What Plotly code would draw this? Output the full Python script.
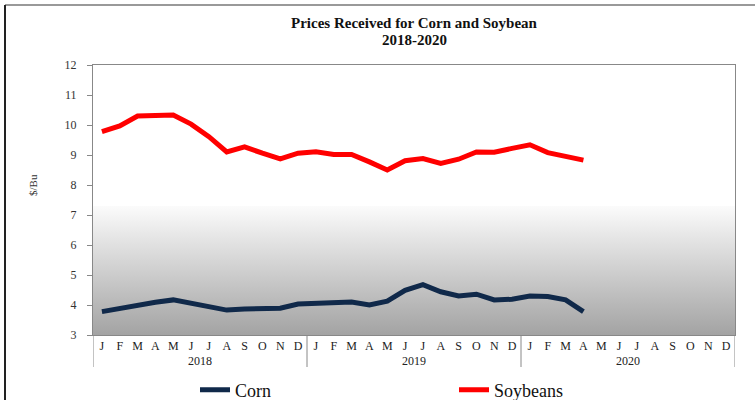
import plotly.graph_objects as go

# monthly prices received, $/bu, Jan 2018 - Apr 2020
months = ["J", "F", "M", "A", "M", "J", "J", "A", "S", "O", "N", "D"]
years = ["2018", "2019", "2020"]

corn = [3.78, 3.89, 4.02, 4.09, 4.17, 4.06, 3.94, 3.83, 3.87, 3.89, 3.89, 4.03,
        4.06, 4.10, 4.10, 4.00, 4.13, 4.49, 4.68, 4.44, 4.30, 4.36, 4.17, 4.19,
        4.30, 4.28, 4.17, 3.78]
soybeans = [9.78, 9.97, 10.30, 10.32, 10.33, 10.03, 9.61, 9.10, 9.27, 9.06, 8.87, 9.06,
            9.11, 9.02, 9.02, 8.77, 8.50, 8.81, 8.88, 8.72, 8.86, 9.10, 9.09, 9.22,
            9.34, 9.08, 8.94, 8.83]

n_months = len(months) * len(years)
x_all = list(range(n_months))
tick_text = months * len(years)

SERIF = "Liberation Serif, Times New Roman, serif"

# plot area in pixels (755x400 page)
L, R, T, B = 93, 735, 65, 335
W, H = 755, 400


def px_x(px):
    return (px - L) / (R - L)


def px_y(py):
    return (B - py) / (B - T)


fig = go.Figure()

# gray gradient band at the bottom of the plot area
fig.add_trace(go.Scatter(
    x=[-0.5, n_months - 0.5, n_months - 0.5, -0.5, -0.5],
    y=[3, 3, 7.3, 7.3, 3],
    mode="lines", line=dict(width=0), fill="toself",
    fillgradient=dict(type="vertical",
                      colorscale=[[0, "#a3a3a3"], [1, "#fbfbfb"]]),
    hoverinfo="skip", showlegend=False,
))

fig.add_trace(go.Scatter(
    x=x_all[:len(corn)], y=corn, mode="lines", name="Corn",
    line=dict(color="#10294a", width=5),
))
fig.add_trace(go.Scatter(
    x=x_all[:len(soybeans)], y=soybeans, mode="lines", name="Soybeans",
    line=dict(color="#ff0000", width=5),
))

# year labels + separators under the month ticks
shapes = []
annotations = []
for i, yr in enumerate(years):
    annotations.append(dict(
        text=yr, x=i * 12 + 5.5, xref="x", y=px_y(361), yref="paper",
        xanchor="center", yanchor="middle",
        showarrow=False, font=dict(family=SERIF, size=12, color="#222"),
    ))
for b in range(len(years) + 1):
    shapes.append(dict(
        type="line", xref="x", yref="paper",
        x0=b * 12 - 0.5, x1=b * 12 - 0.5, y0=0, y1=px_y(367),
        line=dict(color="#888", width=1),
    ))

# outer frame (top + left)
shapes.append(dict(type="line", xref="paper", yref="paper",
                   x0=px_x(5), x1=px_x(W), y0=px_y(5), y1=px_y(5),
                   line=dict(color="#999", width=2)))
shapes.append(dict(type="line", xref="paper", yref="paper",
                   x0=px_x(5), x1=px_x(5), y0=px_y(5), y1=px_y(H),
                   line=dict(color="#222", width=2)))

# second title line, kept tight under the main one
annotations.append(dict(
    text="<b>2018-2020</b>", xref="paper", x=0.5, yref="paper", y=px_y(40),
    xanchor="center", yanchor="middle", showarrow=False,
    font=dict(family=SERIF, size=15, color="#111"),
))

annotations.append(dict(
    text="$/Bu", xref="paper", x=px_x(33), yref="paper", y=px_y(185),
    xanchor="center", yanchor="middle",
    textangle=-90, showarrow=False, font=dict(family=SERIF, size=11, color="#333"),
))

fig.update_layout(
    width=W, height=H,
    margin=dict(l=L, r=W - R, t=T, b=H - B, autoexpand=False),
    paper_bgcolor="white", plot_bgcolor="white",
    title=dict(
        text="<b>Prices Received for Corn and Soybean</b>",
        x=0.5, xref="paper", xanchor="center",
        y=1 - 23 / H, yanchor="middle",
        font=dict(family=SERIF, size=15, color="#111"),
    ),
    xaxis=dict(
        range=[-0.5, n_months - 0.5],
        tickvals=x_all, ticktext=tick_text,
        ticks="", showgrid=False, zeroline=False,
        showline=True, mirror=True, linecolor="#888", linewidth=1,
        tickfont=dict(family=SERIF, size=12, color="#222"),
    ),
    yaxis=dict(
        range=[3, 12], dtick=1,
        ticks="outside", ticklen=5, tickcolor="#888",
        showgrid=False, zeroline=False,
        showline=True, mirror=True, linecolor="#888", linewidth=1,
        ticklabelstandoff=8,
        tickfont=dict(family=SERIF, size=12, color="#333"),
    ),
    legend=dict(
        orientation="h", x=px_x(195), xanchor="left",
        y=px_y(390), yanchor="middle",
        entrywidth=214, entrywidthmode="pixels",
        font=dict(family=SERIF, size=18, color="#111"),
        bgcolor="rgba(0,0,0,0)",
    ),
    shapes=shapes,
    annotations=annotations,
    showlegend=True,
)

# page has a default 8px body margin; drop it so the figure sits at 0,0
fig.write_html("out.html", config={"displayModeBar": False},
               post_script="document.body.style.margin='0px';")
